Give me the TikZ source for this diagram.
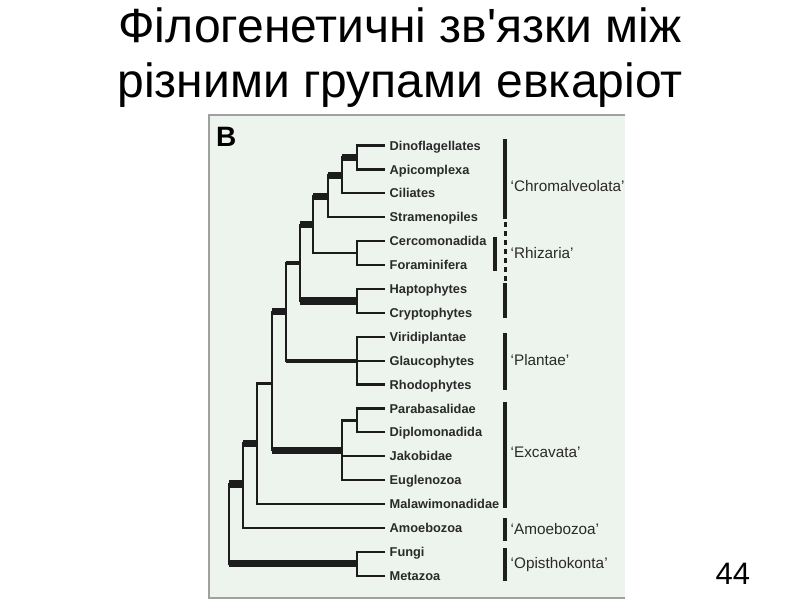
\documentclass[tikz,border=0pt]{standalone}
\usepackage{fontspec}
\setmainfont{Liberation Sans}
\newfontfamily\titlefont{Liberation Sans}[Ligatures=TeXOff]
\definecolor{treecol}{HTML}{1C1C1C}
\definecolor{labcol}{HTML}{2A2A2A}
\definecolor{barcol}{HTML}{1E1E1E}
\definecolor{panelcol}{HTML}{EDF4EE}
\definecolor{framecol}{HTML}{A0A0A0}
\begin{document}
\begin{tikzpicture}[x=1pt,y=-1pt,
  br/.style={line width=2.2pt, draw=treecol, line cap=rect},
  brmid/.style={line width=4pt, draw=treecol},
  brthick/.style={line width=7.5pt, draw=treecol},
  leaf/.style={anchor=west, inner xsep=5.5pt, inner ysep=0pt, text height=9.2pt, text depth=0pt,
    font=\bfseries\fontsize{12.8}{14}\selectfont, text=labcol},
  grp/.style={anchor=west, inner sep=0pt, text height=11pt, text depth=0pt,
    font=\fontsize{15.3}{17}\selectfont, text=labcol},
  gbar/.style={line width=4pt, draw=barcol},
  titlestyle/.style={anchor=base, inner sep=0pt, font=\titlefont\fontsize{48}{52}\selectfont, text=black},
]
\useasboundingbox (0,0) rectangle (800,600);
\fill[white] (0,0) rectangle (800,600);

% title
\node[titlestyle] (t1) at (400,42) {Філогенетичні зв'язки між};
\node[titlestyle] (t2) at (400,97) {різними групами евкаріот};

% panel
\fill[panelcol] (209,115) rectangle (625,598);
\draw[framecol, line width=2pt] (625,115) -- (209,115) -- (209,598) -- (625,598);
\node[anchor=base west, inner sep=0pt, font=\bfseries\fontsize{28}{30}\selectfont] (B) at (216,146) {B};

% leaves
\node[leaf] (l0) at (384,145.5) {Dinoflagellates};
\node[leaf] (l1) at (384,169.4) {Apicomplexa};
\node[leaf] (l2) at (384,193.3) {Ciliates};
\node[leaf] (l3) at (384,217.2) {Stramenopiles};
\node[leaf] (l4) at (384,241.1) {Cercomonadida};
\node[leaf] (l5) at (384,265.0) {Foraminifera};
\node[leaf] (l6) at (384,288.9) {Haptophytes};
\node[leaf] (l7) at (384,312.8) {Cryptophytes};
\node[leaf] (l8) at (384,336.7) {Viridiplantae};
\node[leaf] (l9) at (384,360.6) {Glaucophytes};
\node[leaf] (l10) at (384,384.5) {Rhodophytes};
\node[leaf] (l11) at (384,408.4) {Parabasalidae};
\node[leaf] (l12) at (384,432.3) {Diplomonadida};
\node[leaf] (l13) at (384,456.2) {Jakobidae};
\node[leaf] (l14) at (384,480.1) {Euglenozoa};
\node[leaf] (l15) at (384,504.0) {Malawimonadidae};
\node[leaf] (l16) at (384,527.9) {Amoebozoa};
\node[leaf] (l17) at (384,551.8) {Fungi};
\node[leaf] (l18) at (384,575.7) {Metazoa};

% internal nodes
\coordinate (n1) at (356.7,157.5);
\coordinate (n2) at (342.3,175.4);
\coordinate (n3) at (328.3,196.3);
\coordinate (rh) at (356.7,253.0);
\coordinate (n4) at (313.3,224.7);
\coordinate (hc) at (356.7,300.9);
\coordinate (n5) at (300.0,262.8);
\coordinate (pl) at (356.7,360.6);
\coordinate (n6) at (285.7,311.7);
\coordinate (pd) at (356.7,420.4);
\coordinate (ex) at (342.3,450.3);
\coordinate (n7) at (271.7,383.5);
\coordinate (n8) at (256.7,443.3);
\coordinate (n9) at (243.3,484.0);
\coordinate (op) at (356.7,563.7);
\coordinate (root) at (229.0,524.0);

% brackets
\draw[br] (l0.west) -| (n1) |- (l1.west);
\draw[br] (n1) -| (n2) |- (l2.west);
\draw[br] (n2) -| (n3) |- (l3.west);
\draw[br] (l4.west) -| (rh) |- (l5.west);
\draw[br] (n3) -| (n4) |- (rh);
\draw[br] (l6.west) -| (hc) |- (l7.west);
\draw[br] (n4) -| (n5) |- (hc);
\draw[br] (l8.west) -| (pl) |- (l10.west);
\draw[br] (pl) -- (l9.west);
\draw[br] (n5) -| (n6) |- (pl);
\draw[br] (l11.west) -| (pd) |- (l12.west);
\draw[br] (pd) -| (ex) |- (l14.west);
\draw[br] (ex |- l13.west) -- (l13.west);
\draw[br] (n6) -| (n7) |- (ex);
\draw[br] (n7) -| (n8) |- (l15.west);
\draw[br] (n8) -| (n9) |- (l16.west);
\draw[br] (l17.west) -| (op) |- (l18.west);
\draw[br] (n9) -| (root) |- (op);

% weighted stems
\draw[brthick] (n2 |- n1) -- (n1);
\draw[brthick] (n3 |- n2) -- (n2);
\draw[brthick] (n4 |- n3) -- (n3);
\draw[brthick] (n5 |- n4) -- (n4);
\draw[brthick] (n5 |- hc) -- (hc);
\draw[brmid] (n6 |- n5) -- (n5);
\draw[brmid] (n6 |- pl) -- (pl);
\draw[brthick] (n7 |- n6) -- (n6);
\draw[brthick] (n7 |- ex) -- (ex);
\draw[brthick] (n9 |- n8) -- (n8);
\draw[brthick] (root |- n9) -- (n9);
\draw[brthick] (root |- op) -- (op);

% group bars
\draw[gbar] (505,139) -- (505,219);
\draw[barcol, line width=3pt, dash pattern=on 5pt off 4pt] (505,222) -- (505,281);
\draw[gbar] (505,283) -- (505,318);
\draw[gbar] (494.7,237) -- (494.7,271);
\draw[gbar] (505,333) -- (505,390);
\draw[gbar] (505,402) -- (505,508);
\draw[gbar] (505,518) -- (505,541);
\draw[gbar] (505,548) -- (505,581);

% group labels
\node[grp] (g1) at (510.5,186) {‘Chromalveolata’};
\node[grp] (g2) at (510.5,253) {‘Rhizaria’};
\node[grp] (g3) at (510.5,360) {‘Plantae’};
\node[grp] (g4) at (510.5,452) {‘Excavata’};
\node[grp] (g5) at (510.5,529) {‘Amoebozoa’};
\node[grp] (g6) at (510.5,563) {‘Opisthokonta’};

% page number
\node[anchor=base west, inner sep=0pt, font=\fontsize{31}{33}\selectfont] (pg) at (715.5,584) {44};
\end{tikzpicture}
\end{document}
